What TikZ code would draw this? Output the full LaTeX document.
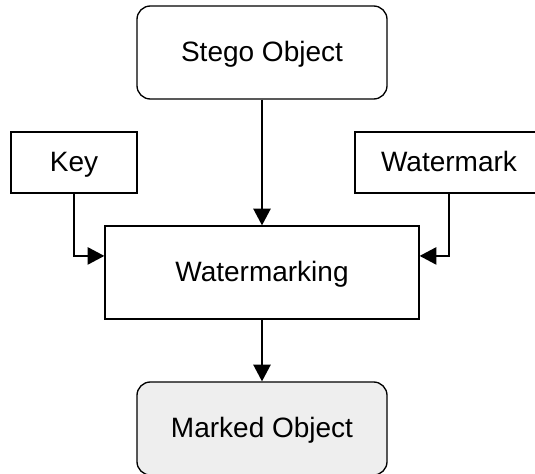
\documentclass[tikz,border=0pt]{standalone}
\usepackage{fontspec}
\setmainfont{Liberation Sans}
\usetikzlibrary{arrows.meta}
\definecolor{markgray}{RGB}{238,238,238}
\begin{document}
\begin{tikzpicture}[x=0.75pt,y=-0.75pt,
  box/.style={draw=black,line width=1pt,inner sep=0pt,
    font=\fontsize{21}{25}\selectfont,text height=15.5pt,text depth=1.3pt},
  rbox/.style={box,rounded corners=10pt,minimum width=187.5pt,minimum height=69.75pt},
  arr/.style={line width=1pt,-{Triangle[length=12.5pt,width=13pt]}}]
\useasboundingbox (0,0) rectangle (535,474);
% boxes
\node[rbox] (stego) at (262,52.5) {Stego Object};
\node[box,minimum width=94.5pt,minimum height=45.75pt] (key) at (74,162.5) {Key};
\node[box,minimum width=141pt,minimum height=45.75pt] (wm) at (449,162.5) {Watermark};
\node[box,minimum width=235.5pt,minimum height=69.75pt] (wmk) at (262,272.5) {Watermarking};
\node[rbox,fill=markgray] (marked) at (262,428.5) {Marked Object};
% arrows
\draw[arr] (stego) -- (wmk);
\draw[arr] (key) |- (wmk.174);
\draw[arr] (wm) |- (wmk.6);
\draw[arr] (wmk) -- (marked);
\end{tikzpicture}
\end{document}
